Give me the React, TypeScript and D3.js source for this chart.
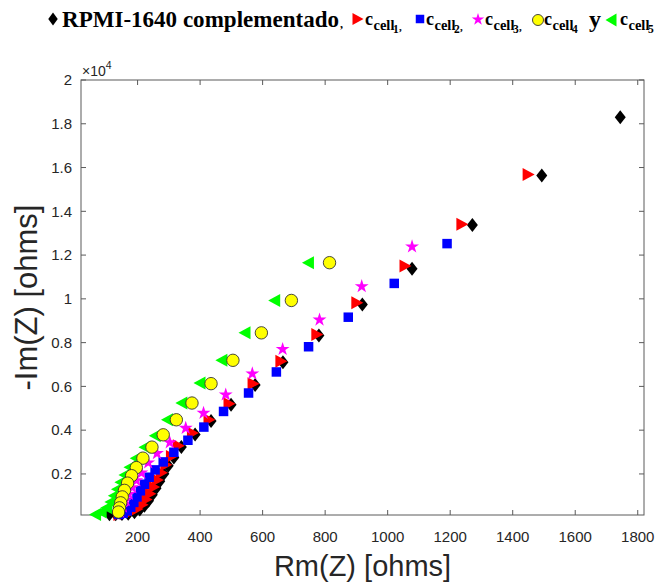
import React from "react";
import * as d3 from "d3";

// ---- data (ohms) ----
const rpmiX = [1744, 1493, 1271, 1078, 919, 780, 665, 576, 499, 435, 384, 340, 316, 298, 284, 271, 259, 247, 235, 222, 207, 190, 170, 150, 130, 110];
const rpmiY = [18296, 15640, 13376, 11379, 9744, 8323, 7100, 6060, 5160, 4420, 3800, 3230, 2750, 2370, 2010, 1670, 1350, 1050, 780, 550, 370, 250, 185, 165, 160, 160];

const c1X = [1451, 1239, 1057, 903, 775, 660, 571, 494, 430, 377, 332, 310, 292, 278, 265, 253, 241, 229, 216, 200, 182, 162, 142];
const c1Y = [15685, 13408, 11498, 9821, 8369, 7146, 6125, 5208, 4475, 3866, 3284, 2800, 2420, 2060, 1720, 1400, 1100, 830, 590, 400, 270, 190, 150];

const c2X = [1190, 1021, 874, 747, 644, 555, 475, 412, 361, 316, 282, 256, 237, 222, 209, 198, 188, 178, 167, 154, 140];
const c2Y = [12524, 10706, 9162, 7812, 6660, 5698, 4856, 4141, 3540, 2990, 2550, 2185, 1850, 1530, 1230, 950, 700, 480, 310, 200, 150];

const c3X = [1078, 917, 782, 664, 567, 482, 411, 354, 303, 262, 234, 212, 196, 183, 172, 162, 153, 144];
const c3Y = [12386, 10568, 9042, 7700, 6583, 5621, 4782, 4095, 3437, 2940, 2514, 2050, 1700, 1380, 1080, 790, 500, 260];

const c4X = [814, 692, 596, 505, 435, 374, 324, 282, 246, 217, 196, 181, 168, 158, 151, 146, 142, 139];
const c4Y = [11653, 9927, 8447, 7192, 6125, 5240, 4475, 3788, 3225, 2721, 2290, 1920, 1580, 1250, 950, 680, 450, 260];

const c5X = [745, 637, 542, 468, 398, 340, 294, 255, 222, 194, 174, 158, 145, 134, 124, 113, 100, 82, 64];
const c5Y = [11653, 9927, 8447, 7192, 6157, 5240, 4475, 3742, 3225, 2721, 2309, 1950, 1620, 1300, 1000, 720, 450, 260, 150];

const xTicks = [200, 400, 600, 800, 1000, 1200, 1400, 1600, 1800];
const yTicks = [2000, 4000, 6000, 8000, 10000, 12000, 14000, 16000, 18000, 20000];
const yTickLabels = ["0.2", "0.4", "0.6", "0.8", "1", "1.2", "1.4", "1.6", "1.8", "2"];

// ---- layout ----
const W = 661;
const H = 584;
const L = 81, R = 644, T = 80, B = 515;

const x = d3.scaleLinear().domain([19, 1820]).range([L, R]);
const y = d3.scaleLinear().domain([124, 20000]).range([B, T]);

const AX = "#262626";
const SANS = "'Liberation Sans', Arial, Helvetica, sans-serif";
const SERIF = "'Liberation Serif', 'Times New Roman', serif";

const diamondPath = (w: number, h: number) => `M0,${-h / 2}L${w / 2},0L0,${h / 2}L${-w / 2},0Z`;
const triRight = (w: number, h: number) => `M${-w / 2},${-h / 2}L${w / 2},0L${-w / 2},${h / 2}Z`;
const triLeft = (w: number, h: number) => `M${w / 2},${-h / 2}L${-w / 2},0L${w / 2},${h / 2}Z`;
const squarePath = (s: number) => `M${-s / 2},${-s / 2}H${s / 2}V${s / 2}H${-s / 2}Z`;
const starPath = d3.symbol().type(d3.symbolStar).size(60)() as string;

type Series = { xs: number[]; ys: number[]; render: (k: string, cx: number, cy: number) => React.ReactNode };

const series: Series[] = [
  { xs: rpmiX, ys: rpmiY, render: (k, cx, cy) => <path key={k} d={diamondPath(11, 14)} transform={`translate(${cx},${cy})`} fill="#000" /> },
  { xs: c1X, ys: c1Y, render: (k, cx, cy) => <path key={k} d={triRight(12, 13)} transform={`translate(${cx},${cy})`} fill="#ff0000" /> },
  { xs: c2X, ys: c2Y, render: (k, cx, cy) => <path key={k} d={squarePath(9.5)} transform={`translate(${cx},${cy})`} fill="#0000ff" /> },
  { xs: c3X, ys: c3Y, render: (k, cx, cy) => <path key={k} d={starPath} transform={`translate(${cx},${cy})`} fill="#ff00ff" /> },
  { xs: c5X, ys: c5Y, render: (k, cx, cy) => <path key={k} d={triLeft(12, 13)} transform={`translate(${cx},${cy})`} fill="#00ff00" /> },
  { xs: c4X, ys: c4Y, render: (k, cx, cy) => <circle key={k} cx={cx} cy={cy} r={6.2} fill="#ffff00" stroke="#333" strokeWidth={0.9} /> },
];

function CLabel({ x0, num, comma }: { x0: number; num: string; comma: boolean }) {
  return (
    <text fontFamily={SERIF} fontWeight="bold" fill="#000">
      <tspan x={x0} y={25} fontSize={18}>c</tspan>
      <tspan x={x0 + 8.5} y={30} fontSize={14.5}>cell</tspan>
      <tspan x={x0 + 28} y={33} fontSize={11.5}>{num}</tspan>
      {comma ? <tspan x={x0 + 34} y={31} fontSize={11}>,</tspan> : null}
    </text>
  );
}

export default function App() {
  const tick = 5;
  return (
    <svg width={W} height={H} style={{ position: "absolute", left: 0, top: 0, background: "#fff" }}>
      <rect x={0} y={0} width={W} height={H} fill="#fff" />
      {/* title / legend line */}
      <path d={diamondPath(9.5, 13)} transform="translate(53,19)" fill="#000" />
      <text x={62} y={27} fontFamily={SERIF} fontWeight="bold" fontSize={23} textLength={277} lengthAdjust="spacingAndGlyphs" fill="#000">RPMI-1640 complementado</text>
      <text x={340} y={28} fontFamily={SERIF} fontWeight="bold" fontSize={12} fill="#000">,</text>
      <path d={triRight(11, 12)} transform="translate(358,19)" fill="#ff0000" />
      <CLabel x0={365} num="1" comma={true} />
      <path d={squarePath(8.5)} transform="translate(420,19)" fill="#0000ff" />
      <CLabel x0={426} num="2" comma={true} />
      <path d={d3.symbol().type(d3.symbolStar).size(48)() as string} transform="translate(478,19.5)" fill="#ff00ff" />
      <CLabel x0={485} num="3" comma={true} />
      <circle cx={538} cy={20} r={5.5} fill="#ffff00" stroke="#333" strokeWidth={0.9} />
      <CLabel x0={544} num="4" comma={false} />
      <text x={589} y={27} fontFamily={SERIF} fontWeight="bold" fontSize={24} fill="#000">y</text>
      <path d={triLeft(11, 13)} transform="translate(611,20)" fill="#00ff00" />
      <CLabel x0={620} num="5" comma={false} />

      {/* axes box */}
      <rect x={L} y={T} width={R - L} height={B - T} fill="none" stroke="#5a5a5a" strokeWidth={1} />
      {xTicks.map((t) => (
        <g key={"xt" + t}>
          <line x1={x(t)} x2={x(t)} y1={B} y2={B - tick} stroke="#5a5a5a" />
          <line x1={x(t)} x2={x(t)} y1={T} y2={T + tick} stroke="#5a5a5a" />
          <text x={x(t)} y={542} textAnchor="middle" fontFamily={SANS} fontSize={15} fill={AX}>{t}</text>
        </g>
      ))}
      {yTicks.map((t, i) => (
        <g key={"yt" + t}>
          <line x1={L} x2={L + tick} y1={y(t)} y2={y(t)} stroke="#5a5a5a" />
          <line x1={R} x2={R - tick} y1={y(t)} y2={y(t)} stroke="#5a5a5a" />
          <text x={72} y={y(t) + 5.3} textAnchor="end" fontFamily={SANS} fontSize={15} fill={AX}>{yTickLabels[i]}</text>
        </g>
      ))}
      <text x={82} y={76} fontFamily={SANS} fontSize={14} fill={AX}>
        ×10<tspan dy={-7} fontSize={10.5}>4</tspan>
      </text>

      {/* axis labels */}
      <text x={(L + R) / 2} y={576} textAnchor="middle" fontFamily={SANS} fontSize={29} fill={AX}>Rm(Z) [ohms]</text>
      <text transform={`translate(37,${(T + B) / 2}) rotate(-90)`} textAnchor="middle" fontFamily={SANS} fontSize={31} fill={AX}>-Im(Z) [ohms]</text>

      {/* data */}
      {series.map((s, si) => (
        <g key={"s" + si}>
          {s.xs.map((v, i) => s.render(`p${si}-${i}`, x(v), y(s.ys[i])))}
        </g>
      ))}
    </svg>
  );
}
